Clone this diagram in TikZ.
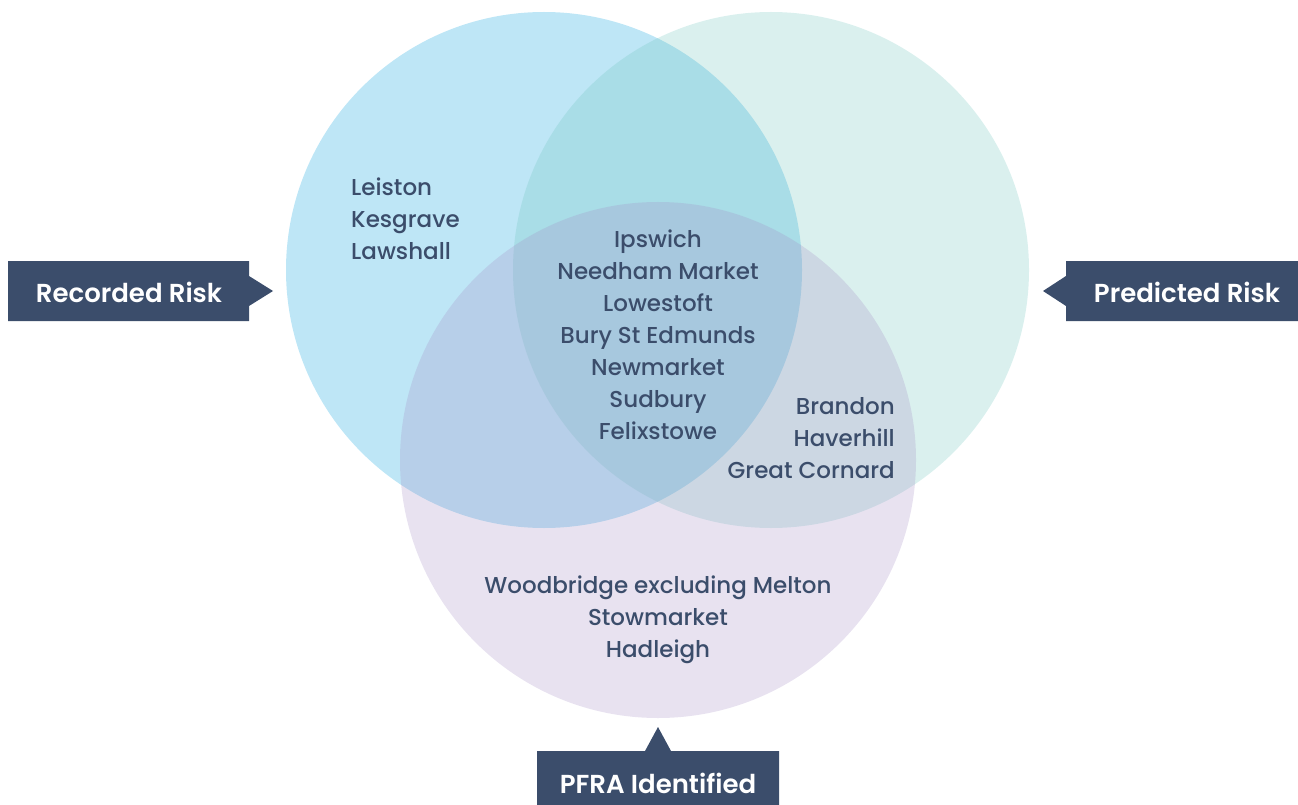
\documentclass[tikz,border=0pt]{standalone}
\usepackage{fontspec}
\setmainfont{Poppins}[UprightFont=* Medium, BoldFont=* SemiBold]
\usetikzlibrary{calc}
\definecolor{recblue}{RGB}{190,230,246}
\definecolor{predteal}{RGB}{108,196,188}
\definecolor{pfrapurple}{RGB}{164,140,196}
\definecolor{slate}{RGB}{59,77,107}
\tikzset{town/.style={text=slate, font=\fontsize{23}{32}\selectfont, inner sep=0pt},
  tag/.style={text=white, font=\bfseries\fontsize{26}{30}\selectfont, inner sep=0pt}}

\begin{document}
\begin{tikzpicture}[x=1pt, y=-1pt]
\useasboundingbox (0,0) rectangle (1298,805);

% the three sets
\fill[recblue] (544,270) circle (258);
\fill[predteal, fill opacity=0.25] (771,270) circle (258);
\fill[pfrapurple, fill opacity=0.25] (658,460) circle (258);

% tags with pointers
\fill[slate] (8,261) -- (249,261) -- (249,276) -- (273,291) -- (249,306) -- (249,321) -- (8,321) -- cycle;
\node[tag] (recorded) at (129,292) {Recorded Risk};
\fill[slate] (1298,261) -- (1066,261) -- (1066,276) -- (1043,291) -- (1066,306) -- (1066,321) -- (1298,321) -- cycle;
\node[tag] (predicted) at (1187,292) {Predicted Risk};
\fill[slate] (537,805) -- (537,751) -- (645,751) -- (658,727) -- (671,751) -- (779,751) -- (779,805) -- cycle;
\node[tag] (pfra) at (658,783) {PFRA Identified};

% towns
\node[town, align=left, anchor=west] (reconly) at (351,219) {Leiston\\Kesgrave\\Lawshall};
\node[town, align=center] (allthree) at (658,335) {Ipswich\\Needham Market\\Lowestoft\\Bury St Edmunds\\Newmarket\\Sudbury\\Felixstowe};
\node[town, align=right, anchor=east] (predpfra) at (895,438) {Brandon\\Haverhill\\Great Cornard};
\node[town, align=center] (pfraonly) at (658,620) {Woodbridge excluding Melton\\Stowmarket\\Hadleigh};
\end{tikzpicture}
\end{document}
